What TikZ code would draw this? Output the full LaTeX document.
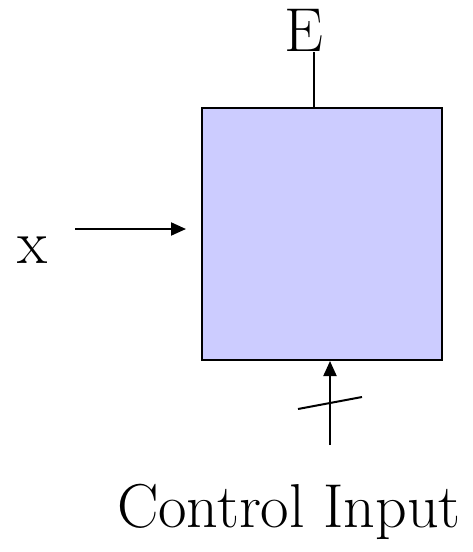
\documentclass[tikz,border=0pt]{standalone}
\usetikzlibrary{arrows.meta}
\definecolor{boxfill}{RGB}{204,204,255}

\begin{document}
\begin{tikzpicture}[x=1pt, y=-1pt, >={Triangle[length=15pt,width=13pt]},
    lbl/.style={anchor=base, inner sep=0pt, font=\fontsize{62}{70}\selectfont},
    blk/.style={draw, line width=2pt, fill=boxfill, minimum width=240pt, minimum height=252pt, inner sep=0pt}]
    \useasboundingbox (0,0) rectangle (473,552);
    % block
    \node[blk] (box) at (322,234) {};
    % labels
    \node[lbl] (E) at (304,51) {E};
    \node[lbl] (x) at (33,263) {x};
    \node[lbl] (ctrl) at (289,527) {Control Input};
    % connectors
    \coordinate (etop) at (314,52);
    \coordinate (xin) at (75,229);
    \coordinate (cin) at (330,445);
    \draw[line width=2pt] (etop) -- (etop |- box.north);
    \draw[->, line width=2pt, shorten >=15pt] (xin) -- (xin -| box.west);
    \draw[->, line width=2pt] (cin) -- (cin |- box.south);
    % bus slash
    \draw[line width=2pt] (298,409) -- (362,397);
\end{tikzpicture}
\end{document}
